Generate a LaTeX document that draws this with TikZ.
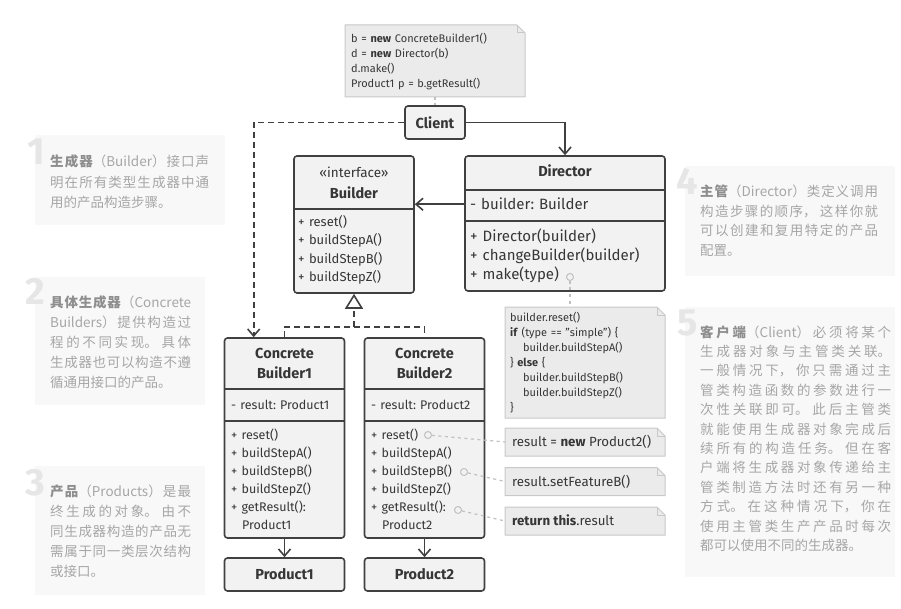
\documentclass[tikz,border=0pt]{standalone}
\usepackage{fontspec}
\setmainfont{Fira Sans}
\newfontfamily\cjk{Noto Sans CJK SC}
\usetikzlibrary{arrows.meta,calc}
\frenchspacing
\definecolor{umlline}{HTML}{404040}
\definecolor{umltext}{HTML}{363636}
\definecolor{umlfill}{HTML}{F2F2F2}
\definecolor{notefill}{HTML}{EBEBEB}
\definecolor{noteline}{HTML}{C8C8C8}
\definecolor{tipfill}{HTML}{F8F8F8}
\definecolor{tipgray}{HTML}{A6A6A6}
\definecolor{tipbold}{HTML}{8E8E8E}
\definecolor{tipnumber}{HTML}{E6E6E6}
\definecolor{hookline}{HTML}{C0C0C0}
\newcommand\tipfont{\cjk\XeTeXlinebreaklocale "zh"\XeTeXlinebreakskip=0pt plus 6pt minus 0.6pt\relax}
\newcommand\tipkey[1]{\textcolor{tipbold}{\bfseries #1}}
\def\dogear(#1){%
  \filldraw[notebox] (#1.south west) -- (#1.north west) -- ($(#1.north east)+(-8,0)$) -- ($(#1.north east)+(0,8)$) -- (#1.south east) -- cycle;
  \draw[notebox,fill=none] ($(#1.north east)+(-8,0)$) |- ($(#1.north east)+(0,8)$);}
\tikzset{
  umlbox/.style={draw=umlline,fill=umlfill,line width=1.6pt,rounded corners=3pt,inner sep=0pt},
  umlsep/.style={draw=umlline,line width=1.6pt},
  classtitle/.style={font=\bfseries\fontsize{14.5}{20}\selectfont,text=umltext,align=center,text width=110,anchor=base,inner sep=0pt},
  members/.style={font=\fontsize{13}{18.5}\selectfont,text=umltext,align=left,text width=#1,anchor=base west,inner sep=0pt},
  bigmembers/.style={members=#1,font=\fontsize{15}{19}\selectfont},
  cbmembers/.style={members=#1,font=\fontsize{12.5}{18}\selectfont},
  notearea/.style={inner sep=0pt,outer sep=0pt},
  notebox/.style={fill=notefill,draw=noteline,line width=1pt},
  codetext/.style={font=\fontsize{11}{15}\selectfont,text=umltext,align=left,text width=150,anchor=base west,inner sep=0pt},
  notetext/.style={font=\fontsize{13.3}{15}\selectfont,text=umltext,anchor=base west,inner sep=0pt},
  tipbox/.style={fill=tipfill,inner sep=0pt,outer sep=0pt},
  tipnum/.style={font=\bfseries\fontsize{38}{38}\selectfont,text=tipnumber,anchor=base east,inner sep=0pt},
  tiptext/.style={font=\tipfont\fontsize{13.5}{20.2}\selectfont,text=tipgray,text width=#1,align=justify,anchor=base west,inner sep=0pt},
  righttext/.style={tiptext=#1,font=\tipfont\fontsize{13.5}{19.4}\selectfont},
  hook/.style={circle,draw=hookline,fill=umlfill,line width=1pt,minimum size=7pt,inner sep=0pt},
  tipline/.style={draw=hookline,line width=1.2pt,dash pattern=on 3pt off 3.5pt},
  assoc/.style={draw=umlline,line width=1.6pt,-{Straight Barb[length=7pt,width=12pt]}},
  dashline/.style={draw=umlline,line width=1.6pt,dash pattern=on 6pt off 4pt},
  dep/.style={dashline,-{Straight Barb[length=7pt,width=12pt]}}
}
\begin{document}
\begin{tikzpicture}[x=1pt,y=-1pt]
		\useasboundingbox (0,0) rectangle (901,609);
		%%%%% START %%%%%
		% left notes
		\node[tipbox,minimum width=190,minimum height=90] (tipa) at (130,180) {};
		\node[tipnum] (numa) at (45,165) {1};
		\node[tiptext=159] (texta) at (50,167) {\tipkey{生成器}（Builder）接口声\linebreak 明在所有类型生成器中通\linebreak 用的产品构造步骤。};
		
		\node[tipbox,minimum width=170,minimum height=128] (tipb) at (120,341) {};
		\node[tipnum] (numb) at (45,305) {2};
		\node[tiptext=141] (textb) at (50,307) {\tipkey{具体生成器}（Concrete\linebreak Builders）提供构造过\linebreak 程的不同实现。 具体\linebreak 生成器也可以构造不遵\linebreak 循通用接口的产品。};
		
		\node[tipbox,minimum width=170,minimum height=129] (tipc) at (120,530.5) {};
		\node[tipnum] (numc) at (45,495) {3};
		\node[tiptext=141] (textc) at (50,496) {\tipkey{产品}（Products）是最\linebreak 终生成的对象。 由不\linebreak 同生成器构造的产品无\linebreak 需属于同一类层次结构\linebreak 或接口。};
		
		% right notes
		\node[tipbox,minimum width=210,minimum height=110] (tipd) at (790,221) {};
		\node[tipnum] (numd) at (698,195) {4};
		\node[righttext=178] (textd) at (700,197) {\tipkey{主管}（Director）类定义调用\linebreak 构造步骤的顺序， 这样你就\linebreak 可以创建和复用特定的产品\linebreak 配置。};
		
		\node[tipbox,minimum width=210,minimum height=270] (tipe) at (790,442) {};
		\node[tipnum] (nume) at (698,335) {5};
		\node[righttext=191] (texte) at (700,337) {\tipkey{客户端}（Client）必须将某个\linebreak 生成器对象与主管类关联。\linebreak 一般情况下， 你只需通过主\linebreak 管类构造函数的参数进行一\linebreak 次性关联即可。 此后主管类\linebreak 就能使用生成器对象完成后\linebreak 续所有的构造任务。 但在客\linebreak 户端将生成器对象传递给主\linebreak 管类制造方法时还有另一种\linebreak 方式。 在这种情况下， 你在\linebreak 使用主管类生产产品时每次\linebreak 都可以使用不同的生成器。};
		
		% client and its code
		\node[notearea,minimum width=180,minimum height=72] (codenote) at (435,61) {};
		\dogear(codenote)
		\node[codetext] (codelines) at (351,43) {b = \textbf{new} ConcreteBuilder1()\\d = \textbf{new} Director(b)\\d.make()\\Product1 p = b.getResult()};
		\node[umlbox,minimum width=60,minimum height=33,font=\bfseries\fontsize{14.5}{18}\selectfont,text=umltext] (client) at (435,122.5) {Client};
		\draw[tipline] (codenote) -- (client);
		
		% director
		\node[umlbox,minimum width=200,minimum height=135] (director) at (565,223.5) {};
		\draw[umlsep] (465,190) -- (665,190);
		\draw[umlsep] (465,221) -- (665,221);
		\node[classtitle] (dirname) at (565,177) {Director};
		\node[bigmembers=190] (dirfield) at (470,210) {- builder: Builder};
		\node[bigmembers=190] (dirops) at (470,242) {+ Director(builder)\\+ changeBuilder(builder)\\+ make(type)};
		
		% builder interface
		\node[umlbox,minimum width=120,minimum height=137] (builder) at (354,224.5) {};
		\draw[umlsep] (294,209) -- (414,209);
		\node[classtitle,font=\fontsize{13.5}{21}\selectfont] (buildername) at (354,178) {«interface»\\\textbf{\fontsize{14.5}{21}\selectfont Builder}};
		\node[members=110] (builderops) at (298,226.5) {+ reset()\\+ buildStepA()\\+ buildStepB()\\+ buildStepZ()};
		
		% concrete builders
		\node[umlbox,minimum width=120,minimum height=200] (cba) at (284.5,438) {};
		\draw[umlsep] (224.5,389) -- (344.5,389);
		\draw[umlsep] (224.5,421) -- (344.5,421);
		\node[classtitle] (cbaname) at (284.5,358) {Concrete\\Builder1};
		\node[cbmembers=110] (cbafield) at (231,409.5) {- result: Product1};
		\node[cbmembers=110] (cbaops) at (231,439.5) {+ reset()\\+ buildStepA()\\+ buildStepB()\\+ buildStepZ()\\+ getResult():\\\hspace*{11pt}Product1};
		
		\node[umlbox,minimum width=120,minimum height=200] (cbb) at (424.5,438) {};
		\draw[umlsep] (364.5,389) -- (484.5,389);
		\draw[umlsep] (364.5,421) -- (484.5,421);
		\node[classtitle] (cbbname) at (424.5,358) {Concrete\\Builder2};
		\node[cbmembers=110] (cbbfield) at (371,409.5) {- result: Product2};
		\node[cbmembers=110] (cbbops) at (371,439.5) {+ reset()\\+ buildStepA()\\+ buildStepB()\\+ buildStepZ()\\+ getResult():\\\hspace*{11pt}Product2};
		
		% products
		\node[umlbox,minimum width=120,minimum height=33,font=\bfseries\fontsize{14.5}{18}\selectfont,text=umltext] (proda) at (284.5,574.5) {Product1};
		\node[umlbox,minimum width=120,minimum height=33,font=\bfseries\fontsize{14.5}{18}\selectfont,text=umltext] (prodb) at (424.5,574.5) {Product2};
		
		% code notes
		\node[notearea,minimum width=160,minimum height=111] (makenote) at (585,362.5) {};
		\dogear(makenote)
		\node[codetext] (makelines) at (510,321) {builder.reset()\\\textbf{if} (type == "simple") \{\\\hspace*{13pt}builder.buildStepA()\\\} \textbf{else} \{\\\hspace*{13pt}builder.buildStepB()\\\hspace*{13pt}builder.buildStepZ()\\\}};
		
		\node[notearea,minimum width=160,minimum height=28] (resetnote) at (585,442) {};
		\dogear(resetnote)
		\node[notetext] (resetline) at (512,446.5) {result = \textbf{new} Product2()};
		\node[notearea,minimum width=160,minimum height=28] (stepbnote) at (585,481.5) {};
		\dogear(stepbnote)
		\node[notetext] (stepbline) at (512,486) {result.setFeatureB()};
		\node[notearea,minimum width=160,minimum height=28] (resultnote) at (585,521) {};
		\dogear(resultnote)
		\node[notetext] (resultline) at (512,525.5) {\textbf{return this}.result};
		
		\node[hook] (makept) at (570,277) {};
		\node[hook] (resetpt) at (428,435) {};
		\node[hook] (stepbpt) at (464,472) {};
		\node[hook] (resultpt) at (458,510) {};
		\draw[tipline] (makept) -- (makept |- makenote.north);
		\draw[tipline] (resetpt) -- (resetnote.west);
		\draw[tipline] (stepbpt) -- (stepbnote.west);
		\draw[tipline] (resultpt) -- (resultnote.west);
		
		% connectors
		\coordinate (fork) at (354,327);
		\draw[dep] (client.west) -| ($(cba.north west)+(30,0)$);
		\draw[assoc] (client.east) -| (director.north);
		\draw[assoc] (director.west |- dirfield) -- (builder.east |- dirfield);
		\draw[dashline] (cba.north) |- (fork) -| (cbb.north);
		\draw[dashline,-{Triangle[open,length=15pt,width=18pt]}] (fork) -- (builder.south);
		\draw[assoc] (cba.south) -- (proda);
		\draw[assoc] (cbb.south) -- (prodb);
		%%%%% END %%%%%
	\end{tikzpicture}
\end{document}
